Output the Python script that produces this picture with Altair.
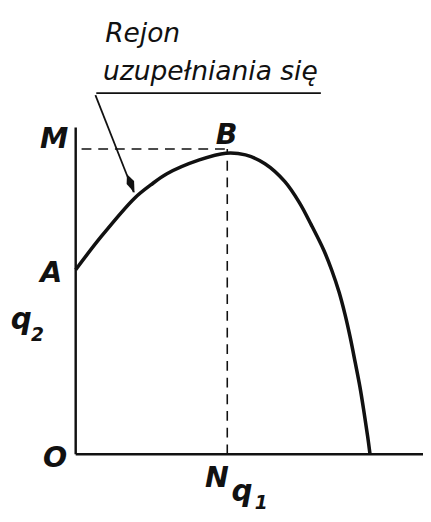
import altair as alt
import pandas as pd

# Curve q2 = f(q1) (arbitrary units)
q1_curve = [0.0, 0.87, 2.0, 2.55, 3.1, 4.2, 5.1, 5.77, 6.43, 7.1, 7.6, 8.0, 8.43,
            8.70, 8.95, 9.15, 9.32, 9.5, 9.66, 9.8, 9.92, 10.0]
q2_curve = [6.27, 7.4, 8.7, 9.15, 9.53, 10.0, 10.23, 10.17, 9.87, 9.27, 8.55, 7.8, 6.93,
            6.25, 5.5, 4.75, 4.0, 3.1, 2.27, 1.4, 0.6, 0.0]

# Key points
B_q1 = 5.15
M_q2 = 10.37
axis_top = 11.1
axis_right = 11.8

# Point labels
labels = ["M", "B", "A", "O", "N"]
label_x = [-0.73, 5.13, -0.83, -0.7, 4.8]
label_y = [10.7, 10.83, 6.15, -0.15, -0.8]

# Axis names (letter + subscript)
axis_letters = ["q", "q"]
axis_letter_x = [-1.85, 5.65]
axis_letter_y = [4.27, -1.6]
axis_subs = ["2", "1"]
axis_sub_x = [-1.3, 6.3]
axis_sub_y = [3.83, -1.85]

# Caption
caption_lines = ["Rejon", "uzupełniania się"]
caption_x = [1.0, 0.93]
caption_y = [14.0, 12.7]
underline_x = [0.7, 8.33]
underline_y = 12.27
leader_from = (0.67, 12.2)
leader_to = (1.97, 8.9)
arrow_at = (1.87, 9.2)

xs = alt.Scale(domain=[-2.3, 11.8], nice=False, zero=False)
ys = alt.Scale(domain=[-1.87, 15.0], nice=False, zero=False)

def X(f="x"):
    return alt.X(f"{f}:Q", scale=xs, axis=None)

def Y(f="y"):
    return alt.Y(f"{f}:Q", scale=ys, axis=None)

curve_df = pd.DataFrame({"x": q1_curve, "y": q2_curve, "i": range(len(q1_curve))})

axes_df = pd.DataFrame({
    "x": [0.0, 0.0], "y": [0.0, 0.0],
    "x2": [0.0, axis_right], "y2": [axis_top, 0.0],
})
dash_df = pd.DataFrame({
    "x": [0.2, B_q1], "y": [M_q2, 0.0],
    "x2": [B_q1, B_q1], "y2": [M_q2, M_q2],
})
lead_df = pd.DataFrame({
    "x": [underline_x[0], leader_from[0]], "y": [underline_y, leader_from[1]],
    "x2": [underline_x[1], leader_to[0]], "y2": [underline_y, leader_to[1]],
})
arrow_df = pd.DataFrame({"x": [arrow_at[0]], "y": [arrow_at[1]]})
lab_df = pd.DataFrame({"x": label_x, "y": label_y, "t": labels})
qa_df = pd.DataFrame({"x": axis_letter_x, "y": axis_letter_y, "t": axis_letters})
qs_df = pd.DataFrame({"x": axis_sub_x, "y": axis_sub_y, "t": axis_subs})
cap_df = pd.DataFrame({"x": caption_x, "y": caption_y, "t": caption_lines})

ink = "#111111"
font = "DejaVu Sans"

axes = alt.Chart(axes_df).mark_rule(color=ink, strokeWidth=2.5).encode(
    x=X(), y=Y(), x2="x2:Q", y2="y2:Q")
dashes = alt.Chart(dash_df).mark_rule(color=ink, strokeWidth=1.6, strokeDash=[10, 7]).encode(
    x=X(), y=Y(), x2="x2:Q", y2="y2:Q")
leads = alt.Chart(lead_df).mark_rule(color=ink, strokeWidth=1.8).encode(
    x=X(), y=Y(), x2="x2:Q", y2="y2:Q")
arrow = alt.Chart(arrow_df).mark_point(
    shape="M0,-1L0.4,-0.1L0,1L-0.4,-0.1Z", filled=True, color=ink, opacity=1,
    size=420, angle=338).encode(x=X(), y=Y())
curve = alt.Chart(curve_df).mark_line(color=ink, strokeWidth=3.6, interpolate="catmull-rom").encode(
    x=X(), y=Y(), order="i:Q")

lab = alt.Chart(lab_df).mark_text(font=font, fontStyle="italic", fontWeight="bold", fontSize=29, color=ink,
                                  align="center", baseline="middle").encode(x=X(), y=Y(), text="t:N")
qa = alt.Chart(qa_df).mark_text(font=font, fontStyle="italic", fontWeight="bold", fontSize=30, color=ink,
                                align="center", baseline="alphabetic").encode(x=X(), y=Y(), text="t:N")
qs = alt.Chart(qs_df).mark_text(font=font, fontStyle="italic", fontWeight="bold", fontSize=19, color=ink,
                                align="center", baseline="alphabetic").encode(x=X(), y=Y(), text="t:N")
cap = alt.Chart(cap_df).mark_text(font=font, fontStyle="italic", fontSize=27, color=ink,
                                  align="left", baseline="alphabetic").encode(
    x=X(), y=Y(), text="t:N")

chart = alt.layer(axes, dashes, leads, curve, arrow, lab, qa, qs, cap).properties(
    width=423, height=506,
    autosize=alt.AutoSizeParams(type="none"),
    padding=0,
    background="white",
).configure_view(stroke=None)

chart.save("out.html", embed_options={"renderer": "svg", "actions": False})
